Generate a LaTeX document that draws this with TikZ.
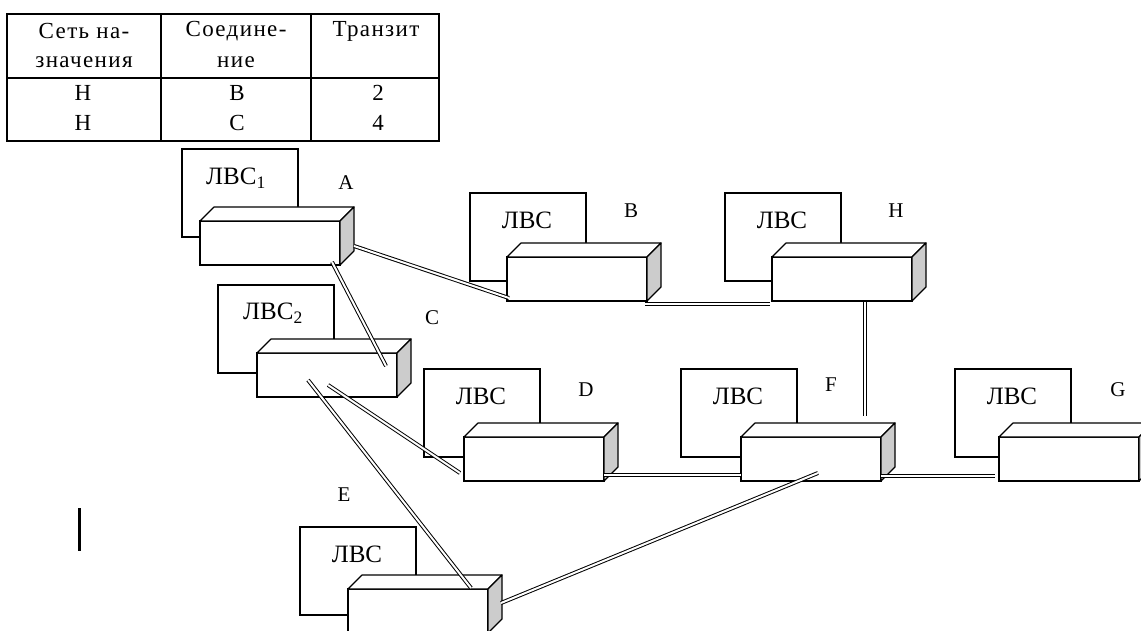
\documentclass[tikz,border=0pt]{standalone}
\usepackage{fontspec}
\setmainfont{Liberation Serif}
\newfontfamily\tabfont[LetterSpace=6]{Liberation Serif}
\usetikzlibrary{calc}

\begin{document}
\begin{tikzpicture}[
    x=1pt, y=-1pt,
    lan/.style={draw, line width=1.2pt, fill=white, anchor=north west, inner sep=0pt, outer sep=0pt, minimum width=116pt, minimum height=88pt},
    unit/.style={draw, line width=1.2pt, fill=white, anchor=north west, inner sep=0pt, outer sep=0pt, minimum width=140pt, minimum height=44pt},
    face/.style={draw, line width=1.2pt, fill=white, line join=round},
    side/.style={draw, line width=1.2pt, fill=gray!40, line join=round},
    link/.style={draw=black, double=white, double distance=2pt, line width=1pt},
    lanlabel/.style={font=\fontsize{25}{29}\selectfont, inner sep=0pt},
    tag/.style={font=\fontsize{21}{24}\selectfont, inner sep=0pt},
    cell/.style={font=\tabfont\fontsize{23}{26}\selectfont, inner sep=0pt},
    grid/.style={line width=1.4pt}
]
   \useasboundingbox (0,0) rectangle (1141,631);

   % Table
   \draw[grid] (7,14) rectangle (439,141);
   \draw[grid] (161,14) -- (161,141);
   \draw[grid] (311,14) -- (311,141);
   \draw[grid] (7,78) -- (439,78);
   \node[cell] (h11) at (84,31) {Сеть на-};
   \node[cell] (h12) at (84,62) {значения};
   \node[cell] (h21) at (236,31) {Соедине-};
   \node[cell] (h22) at (236,62) {ние};
   \node[cell] (h31) at (376,31) {Транзит};
   \node[cell] (r11) at (83,93) {H};
   \node[cell] (r12) at (237,93) {B};
   \node[cell] (r13) at (378,93) {2};
   \node[cell] (r21) at (83,123) {H};
   \node[cell] (r22) at (237,123) {C};
   \node[cell] (r23) at (378,123) {4};

   % LANs
   \node[lan] (lanA) at (182,149) {};
   \node[lan] (lanC) at (218,285) {};
   \node[lan] (lanB) at (470,193) {};
   \node[lan] (lanH) at (725,193) {};
   \node[lan] (lanD) at (424,369) {};
   \node[lan] (lanF) at (681,369) {};
   \node[lan] (lanG) at (955,369) {};
   \node[lan] (lanE) at (300,527) {};

   \node[lanlabel] (tA) at ($(lanA.north)+(-4,29)$) {ЛВС\textsubscript{1}};
   \node[lanlabel] (tC) at ($(lanC.north)+(-3,28)$) {ЛВС\textsubscript{2}};
   \foreach \n in {B,H,D,F,G,E}
      \node[lanlabel] (t\n) at ($(lan\n.north)+(-1,27)$) {ЛВС};

   % Routers
   \node[unit] (A) at (200,221) {};
   \node[unit] (C) at (257,353) {};
   \node[unit] (B) at (507,257) {};
   \node[unit] (H) at (772,257) {};
   \node[unit] (D) at (464,437) {};
   \node[unit] (F) at (741,437) {};
   \node[unit] (G) at (999,437) {};
   \node[unit] (E) at (348,589) {};

   \foreach \n in {A,C,B,H,D,F,G,E} {
      \draw[face] (\n.north west) -- ++(14,-14) -- ($(\n.north east)+(14,-14)$) -- (\n.north east) -- cycle;
      \draw[side] (\n.north east) -- ++(14,-14) -- ($(\n.south east)+(14,-14)$) -- (\n.south east) -- cycle;
   }

   % Names
   \node[tag] (nA) at (346,183) {A};
   \node[tag] (nB) at (631,211) {B};
   \node[tag] (nH) at (896,211) {H};
   \node[tag] (nC) at (432,318) {C};
   \node[tag] (nD) at (586,390) {D};
   \node[tag] (nF) at (831,385) {F};
   \node[tag] (nG) at (1118,390) {G};
   \node[tag] (nE) at (344,495) {E};

   % Links
   \path[link] ($(A.east)+(14,3)$) -- ($(B.south west)+(2,-3)$);
   \path[link] ($(A.south east)+(-8,-3)$) -- ($(C.north east)+(-11,13)$);
   \path[link] ($(C.south west)+(71,-12)$) -- ($(D.south west)+(-4,-8)$);
   \path[link] ($(C.south west)+(51,-17)$) -- ($(E.north east)+(-17,-1)$);
   \path[link] ($(E.north east)+(13,14)$) -- ($(F.south west)+(77,-8)$);
   \path[link] ($(B.south east)+(-2,3)$) -- ($(H.south west)+(-2,3)$);
   \path[link] ($(H.south west)+(93,1)$) -- ($(F.north west)+(124,-21)$);
   \path[link] ($(D.south east)+(0,-6)$) -- ($(F.south west)+(0,-6)$);
   \path[link] ($(F.south east)+(0,-5)$) -- ($(G.south west)+(-4,-5)$);

   % cursor
   \draw[line width=3pt] (79,508) -- (79,551);
\end{tikzpicture}
\end{document}
